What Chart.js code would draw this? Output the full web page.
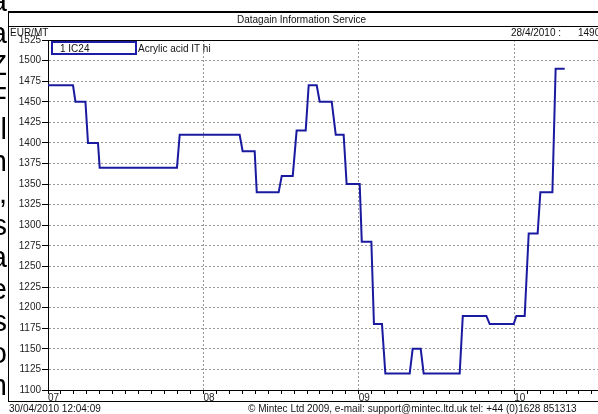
<!DOCTYPE html>
<html>
<head>
<meta charset="utf-8">
<script src="https://cdn.jsdelivr.net/npm/chart.js@4.4.0/dist/chart.umd.min.js"></script>
<style>
  body { margin: 0; width: 598px; height: 414px; overflow: hidden; background: #fff; position: relative;
         font-family: "Liberation Sans", Arial, sans-serif; }
  #wrap { position: absolute; left: 0; top: 0; width: 620px; height: 414px; }
  .t { position: absolute; font-size: 10px; line-height: 12px; color: #111; white-space: nowrap; }
  .hl { position: absolute; background: #000; height: 1px; }
  .vl { position: absolute; background: #000; width: 1px; }
  .side { position: absolute; right: 591px; font-size: 29px; line-height: 30px; color: #000; text-align: right; white-space: nowrap; }
  #legendBox { position: absolute; left: 51px; top: 41px; width: 82px; height: 10px; border: 2px solid #1c1ca8; }
</style>
</head>
<body>
<div id="wrap"><canvas id="priceChart" width="620" height="414" style="width:620px;height:414px"></canvas></div>

<!-- frame and header -->
<div class="hl" style="left:8px; top:11px; width:600px; height:2px;"></div>
<div class="vl" style="left:8px; top:11px; height:391px;"></div>
<div class="hl" style="left:8px; top:26px; width:600px;"></div>
<div class="hl" style="left:8px; top:401px; width:600px;"></div>
<div class="t" style="left:237px; top:14px;">Datagain Information Service</div>
<div class="t" style="left:10px; top:27px;">EUR/MT</div>
<div class="t" style="left:511px; top:27px;">28/4/2010 :</div>
<div class="t" style="left:578px; top:27px;">1490</div>

<!-- legend -->
<div id="legendBox"></div>
<div class="t" style="left:60px; top:43px;">1 IC24</div>
<div class="t" style="left:138px; top:43px;">Acrylic acid IT hi</div>

<!-- footer -->
<div class="t" style="left:9px; top:403px;">30/04/2010 12:04:09</div>
<div class="t" style="left:248px; top:403px;">© Mintec Ltd 2009, e-mail: support@mintec.ltd.uk tel: +44 (0)1628 851313</div>

<!-- cut-off text column at the left edge -->
<div id="sideText"></div>

<script>
// each price level: start and end (months since Jan 2007) and the price, EUR/MT
const levelStart = [0, 2.12, 3.09, 3.99, 10.17, 15.03, 16.12, 18.05, 19.2, 20.13, 20.98, 22.22,
                    23.06, 24.23, 25.17, 26.05, 28.16, 29.01, 32.03, 34.11, 36.17, 37.12, 38.02, 39.2];
const levelEnd   = [1.93, 2.89, 3.86, 9.96, 14.8, 15.96, 17.81, 18.9, 19.9, 20.75, 21.91, 22.83,
                    24.07, 24.97, 25.79, 27.93, 28.78, 31.79, 33.85, 35.96, 36.81, 37.81, 38.95, 39.9];
const levelPrice = [1470, 1450, 1400, 1370, 1410, 1390, 1340, 1360, 1415, 1470, 1450, 1410,
                    1350, 1280, 1180, 1120, 1150, 1120, 1190, 1180, 1190, 1290, 1340, 1490];

const yearLabels = ['07', '08', '09', '10', '11'];
const yMin = 1100, yMax = 1525, yStep = 25;

const sideLetters = ['a', 'a', 'Z', 'F', 'l', 'n', ',', 's', 'a', 'e', 's', 'o', 'n'];

// build the left text column
const side = document.getElementById('sideText');
sideLetters.forEach(function(ch, i) {
    const d = document.createElement('div');
    d.className = 'side';
    d.style.top = (-14 + i * 32) + 'px';
    d.textContent = ch;
    side.appendChild(d);
});

// points: level start and end, so the changes come out as short slopes
const points = [];
for (let i = 0; i < levelPrice.length; i++) {
    points.push({ x: levelStart[i], y: levelPrice[i] });
    points.push({ x: levelEnd[i], y: levelPrice[i] });
}

const monthPx = 12.95;
const plotLeft = 48;

const frameTop = {
    id: 'frameTop',
    afterDraw(chart) {
        const ctx = chart.ctx, a = chart.chartArea;
        ctx.save();
        ctx.strokeStyle = '#000';
        ctx.lineWidth = 1;
        ctx.beginPath();
        ctx.moveTo(a.left, a.top + 0.5);
        ctx.lineTo(a.right, a.top + 0.5);
        ctx.stroke();
        ctx.restore();
    }
};

const ctx = document.getElementById('priceChart').getContext('2d');
const priceChart = new Chart(ctx, {
    type: 'line',
    data: {
        datasets: [{
            label: 'Acrylic acid IT hi',
            data: points,
            borderColor: '#1a1aa0',
            borderWidth: 2,
            pointRadius: 0,
            tension: 0,
            fill: false
        }]
    },
    options: {
        responsive: false,
        animation: false,
        layout: { padding: { top: 40, left: 0, right: 0, bottom: 0 } },
        plugins: { legend: { display: false }, tooltip: { enabled: false } },
        scales: {
            x: {
                type: 'linear',
                min: 0,
                max: (620 - plotLeft) / monthPx,
                afterBuildTicks: function(scale) {
                    const t = [];
                    for (let m = 0; m <= Math.floor(scale.max); m++) t.push({ value: m });
                    scale.ticks = t;
                },
                afterFit: function(scale) { scale.height = 24; },
                ticks: {
                    autoSkip: false,
                    maxRotation: 0,
                    align: 'start',
                    padding: -2,
                    color: '#222',
                    font: { family: 'Liberation Sans', size: 10 },
                    callback: function(v) { return v % 12 === 0 ? yearLabels[v / 12] : ''; }
                },
                grid: {
                    color: function(c) {
                        return (c.tick && c.tick.value > 0 && c.tick.value % 12 === 0) ? '#999' : 'rgba(0,0,0,0)';
                    },
                    tickColor: '#000',
                    tickLength: 4
                },
                border: { color: '#000', dash: [2, 2] }
            },
            y: {
                min: yMin,
                max: yMax,
                afterFit: function(scale) { scale.width = plotLeft; },
                ticks: {
                    stepSize: yStep,
                    padding: 1,
                    color: '#222',
                    font: { family: 'Liberation Sans', size: 10 },
                    callback: function(v) { return String(v); }
                },
                grid: { color: '#999', tickColor: '#000', tickLength: 6 },
                border: { color: '#000', dash: [2, 2] }
            }
        }
    },
    plugins: [frameTop]
});
</script>
</body>
</html>
